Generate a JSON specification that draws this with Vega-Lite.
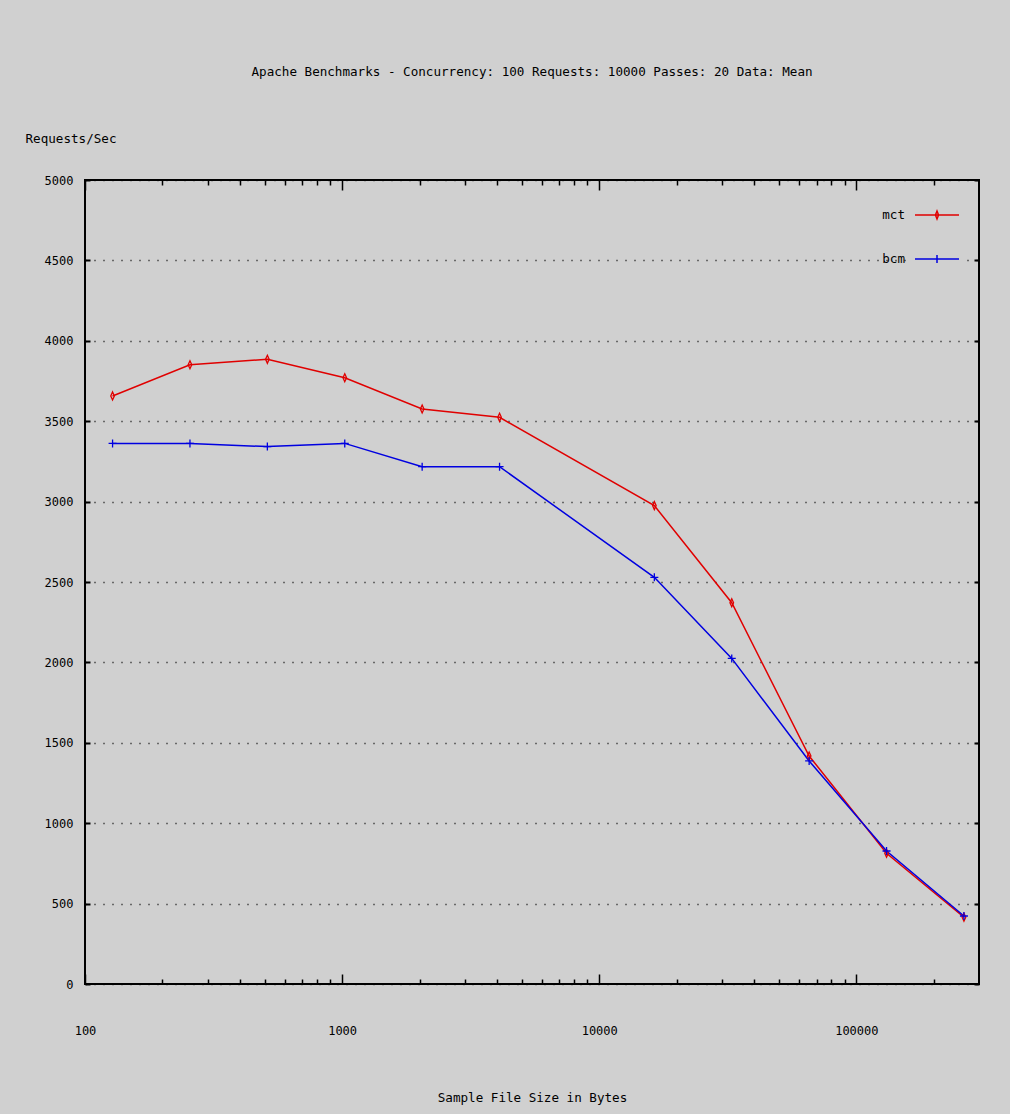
{
  "$schema": "https://vega.github.io/schema/vega-lite/v6.json",
  "autosize": "none",
  "width": 894,
  "height": 804,
  "padding": {"left": 85, "top": 180, "right": 31, "bottom": 130},
  "background": "#d0d0d0",
  "title": {
    "text": "Apache Benchmarks - Concurrency: 100 Requests: 10000 Passes: 20 Data: Mean",
    "fontSize": 12.6,
    "fontWeight": "normal",
    "font": "DejaVu Sans Mono",
    "color": "#000000",
    "anchor": "middle",
    "frame": "group",
    "offset": 53
  },
  "config": {
    "font": "DejaVu Sans Mono",
    "view": {"stroke": "#000000", "strokeWidth": 2},
    "axis": {
      "domain": false,
      "labelColor": "#000000",
      "titleColor": "#000000",
      "tickColor": "#000000",
      "labelFontSize": 12,
      "titleFontSize": 12.6,
      "titleFontWeight": "normal",
      "labelFont": "DejaVu Sans Mono",
      "titleFont": "DejaVu Sans Mono"
    }
  },
  "data": {
    "values": [
      {"size": 128, "series": "mct", "rps": 3657},
      {"size": 256, "series": "mct", "rps": 3851},
      {"size": 512, "series": "mct", "rps": 3885},
      {"size": 1024, "series": "mct", "rps": 3770},
      {"size": 2048, "series": "mct", "rps": 3576},
      {"size": 4096, "series": "mct", "rps": 3524},
      {"size": 16384, "series": "mct", "rps": 2975},
      {"size": 32768, "series": "mct", "rps": 2371},
      {"size": 65536, "series": "mct", "rps": 1418},
      {"size": 131072, "series": "mct", "rps": 813},
      {"size": 262144, "series": "mct", "rps": 415},
      {"size": 128, "series": "bcm", "rps": 3362},
      {"size": 256, "series": "bcm", "rps": 3362},
      {"size": 512, "series": "bcm", "rps": 3342},
      {"size": 1024, "series": "bcm", "rps": 3362},
      {"size": 2048, "series": "bcm", "rps": 3217},
      {"size": 4096, "series": "bcm", "rps": 3217},
      {"size": 16384, "series": "bcm", "rps": 2529},
      {"size": 32768, "series": "bcm", "rps": 2025},
      {"size": 65536, "series": "bcm", "rps": 1387},
      {"size": 131072, "series": "bcm", "rps": 827},
      {"size": 262144, "series": "bcm", "rps": 423}
    ]
  },
  "layer": [
    {
      "mark": {"type": "line", "strokeWidth": 1.5},
      "encoding": {
        "x": {
          "field": "size",
          "type": "quantitative",
          "scale": {"type": "log", "domain": [100, 300000], "nice": false},
          "axis": {
            "orient": "bottom",
            "title": "Sample File Size in Bytes",
            "titleY": 113,
            "titleBaseline": "middle",
            "values": [100, 200, 300, 400, 500, 600, 700, 800, 900, 1000, 2000, 3000, 4000, 5000, 6000, 7000, 8000, 9000, 10000, 20000, 30000, 40000, 50000, 60000, 70000, 80000, 90000, 100000, 200000],
            "labelExpr": "indexof([100, 1000, 10000, 100000], datum.value) >= 0 ? format(datum.value, 'd') : ''",
            "labelOverlap": false,
            "labelFlush": false,
            "labelBound": false,
            "tickWidth": 1.5,
            "tickSize": {"condition": {"test": "indexof([100, 1000, 10000, 100000], datum.value) >= 0", "value": -10}, "value": -5},
            "labelPadding": 51,
            "labelBaseline": "top",
            "grid": false
          }
        },
        "y": {
          "field": "rps",
          "type": "quantitative",
          "scale": {"domain": [0, 5000], "nice": false},
          "axis": {
            "orient": "left",
            "title": "Requests/Sec",
            "titleAngle": 0,
            "titleAlign": "left",
            "titleBaseline": "middle",
            "titleX": -60,
            "titleY": -42,
            "values": [0, 500, 1000, 1500, 2000, 2500, 3000, 3500, 4000, 4500, 5000],
            "format": "d",
            "tickSize": -5,
            "tickWidth": 2,
            "labelPadding": 17,
            "grid": true,
            "gridColor": "#000000",
            "gridDash": [1, 8],
            "gridWidth": 1.3,
            "gridOpacity": 1
          }
        },
        "color": {
          "field": "series",
          "type": "nominal",
          "scale": {"domain": ["mct", "bcm"], "range": ["#e00000", "#0000e0"]},
          "legend": {
            "orient": "none",
            "legendX": 826,
            "legendY": 9,
            "title": null,
            "padding": 3,
            "fillColor": "#d0d0d0",
            "rowPadding": 14,
            "symbolSize": 1936,
            "symbolStrokeWidth": 1.5,
            "labelAlign": "right",
            "labelOffset": -55,
            "labelFontSize": 12.6,
            "labelColor": "#000000",
            "labelFont": "DejaVu Sans Mono",
            "encode": {
              "symbols": {
                "update": {
                  "shape": {"signal": "datum.value === 'mct' ? 'M-1,0L1,0M0,-0.18L0.07,0L0,0.18L-0.07,0Z' : 'M-1,0L1,0M0,-0.18L0,0.18'"},
                  "fill": {"value": "transparent"}
                }
              }
            }
          }
        }
      }
    },
    {
      "transform": [{"filter": "datum.series === 'mct'"}],
      "mark": {"type": "point", "filled": false, "strokeWidth": 1.3, "size": 64, "opacity": 1, "shape": "M0,-1L0.45,0L0,1L-0.45,0Z"},
      "encoding": {
        "x": {
          "field": "size",
          "type": "quantitative",
          "axis": {
            "orient": "top",
            "title": null,
            "labels": false,
            "values": [100, 200, 300, 400, 500, 600, 700, 800, 900, 1000, 2000, 3000, 4000, 5000, 6000, 7000, 8000, 9000, 10000, 20000, 30000, 40000, 50000, 60000, 70000, 80000, 90000, 100000, 200000],
            "tickWidth": 1.5,
            "tickSize": {"condition": {"test": "indexof([100, 1000, 10000, 100000], datum.value) >= 0", "value": -10}, "value": -5},
            "grid": false
          }
        },
        "y": {
          "field": "rps",
          "type": "quantitative",
          "axis": {
            "orient": "right",
            "title": null,
            "labels": false,
            "values": [0, 500, 1000, 1500, 2000, 2500, 3000, 3500, 4000, 4500, 5000],
            "tickSize": -5,
            "tickWidth": 2,
            "grid": false
          }
        },
        "color": {"field": "series", "type": "nominal", "legend": null}
      }
    },
    {
      "transform": [{"filter": "datum.series === 'bcm'"}],
      "mark": {"type": "point", "filled": false, "strokeWidth": 1.3, "size": 64, "opacity": 1, "shape": "M-1,0L1,0M0,-1L0,1"},
      "encoding": {
        "x": {"field": "size", "type": "quantitative", "axis": null},
        "y": {"field": "rps", "type": "quantitative", "axis": null},
        "color": {"field": "series", "type": "nominal", "legend": null}
      }
    }
  ],
  "resolve": {"axis": {"x": "independent", "y": "independent"}}
}
